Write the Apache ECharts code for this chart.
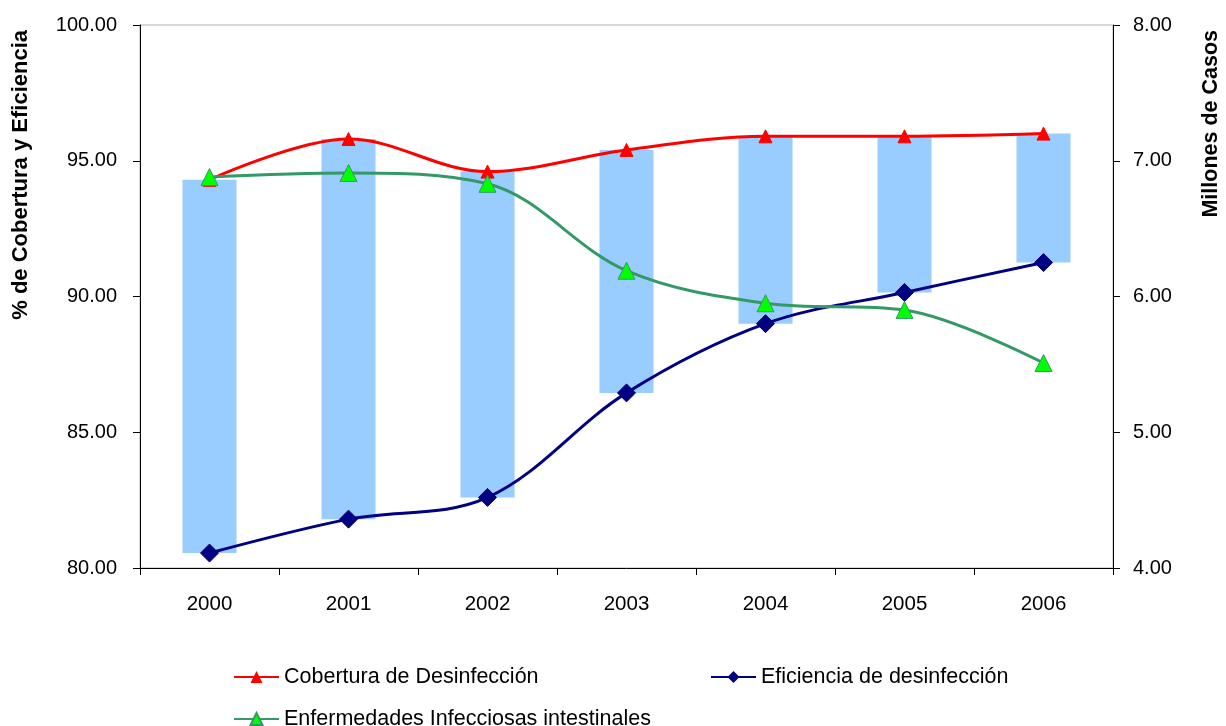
<!DOCTYPE html>
<html>
<head>
<meta charset="utf-8">
<script src="https://cdn.jsdelivr.net/npm/echarts@6/dist/echarts.min.js"></script>
<style>html,body{margin:0;padding:0;background:#fff}#c{width:1226px;height:726px}</style>
</head>
<body>
<div id="c"></div>
<script>
const categories = ['2000','2001','2002','2003','2004','2005','2006'];
const cobertura = [94.3, 95.8, 94.6, 95.4, 95.9, 95.9, 96.0];
const eficiencia = [80.55, 81.8, 82.6, 86.45, 89.0, 90.15, 91.25];
const enfermedades = [6.88, 6.91, 6.83, 6.19, 5.95, 5.90, 5.51];
const leftTicks = [80, 85, 90, 95, 100];
const rightTicks = [4, 5, 6, 7, 8];

const FONT = '"Liberation Sans", Arial, sans-serif';
const barRange = cobertura.map((v, i) => +(v - eficiencia[i]).toFixed(2));

const legendText = { fontSize: 21.5, color: '#000', fontFamily: FONT };
const chart = echarts.init(document.getElementById('c'));
chart.setOption({
  animation: false,
  backgroundColor: '#fff',
  textStyle: { fontFamily: FONT },
  grid: { left: 140, right: 113, top: 25, bottom: 158, show: true, borderColor: '#b0b0b0', borderWidth: 1 },
  legend: [
    { left: 228, top: 661, itemWidth: 45, itemHeight: 15, itemGap: 6,
      textStyle: legendText, data: ['Cobertura de Desinfección'] },
    { left: 705, top: 661, itemWidth: 45, itemHeight: 15,
      textStyle: legendText, data: ['Eficiencia de desinfección'] },
    { left: 228, top: 703, itemWidth: 45, itemHeight: 15,
      textStyle: legendText, data: ['Enfermedades Infecciosas intestinales'] }
  ],
  xAxis: {
    type: 'category', data: categories, boundaryGap: true,
    axisLine: { lineStyle: { color: '#000', width: 1 } },
    axisTick: { show: true, length: 7, lineStyle: { color: '#000' } },
    axisLabel: { fontSize: 20.5, color: '#000', margin: 26, fontFamily: FONT },
    splitLine: { show: false }
  },
  yAxis: [
    { type: 'value', min: leftTicks[0], max: leftTicks[leftTicks.length - 1], interval: 5,
      axisLine: { show: true, lineStyle: { color: '#000' } },
      axisTick: { show: true, length: 7, lineStyle: { color: '#000' } },
      axisLabel: { fontSize: 20, color: '#000', margin: 23, fontFamily: FONT, formatter: v => v.toFixed(2) },
      splitLine: { show: false } },
    { type: 'value', min: rightTicks[0], max: rightTicks[rightTicks.length - 1], interval: 1,
      position: 'right',
      axisLine: { show: true, lineStyle: { color: '#000' } },
      axisTick: { show: true, length: 7, lineStyle: { color: '#000' } },
      axisLabel: { fontSize: 20, color: '#000', margin: 20, fontFamily: FONT, formatter: v => v.toFixed(2) },
      splitLine: { show: false } }
  ],
  graphic: [
    { type: 'text', left: 10, top: 30, rotation: Math.PI / 2,
      style: { text: '% de Cobertura y Eficiencia', font: 'bold 22px ' + FONT, fill: '#000' } },
    { type: 'text', left: 1200, top: 30, rotation: Math.PI / 2,
      style: { text: 'Millones de Casos', font: 'bold 21.5px ' + FONT, fill: '#000' } }
  ],
  series: [
    { name: 'base', type: 'bar', stack: 'r', yAxisIndex: 0, barWidth: 54, silent: true,
      itemStyle: { color: 'rgba(0,0,0,0)' }, data: eficiencia, z: 1 },
    { name: 'rango', type: 'bar', stack: 'r', yAxisIndex: 0, barWidth: 54, silent: true,
      itemStyle: { color: '#99CCFF' }, data: barRange, z: 1 },
    { name: 'Cobertura de Desinfección', type: 'line', yAxisIndex: 0, data: cobertura, smooth: 0.35,
      symbol: 'triangle', symbolSize: 13, lineStyle: { color: '#FF0000', width: 3 },
      itemStyle: { color: '#FF0000', borderColor: '#FF0000' }, z: 3 },
    { name: 'Eficiencia de desinfección', type: 'line', yAxisIndex: 0, data: eficiencia, smooth: 0.35,
      symbol: 'diamond', symbolSize: 18, lineStyle: { color: '#000080', width: 3 },
      itemStyle: { color: '#000080', borderColor: '#000080' }, z: 3 },
    { name: 'Enfermedades Infecciosas intestinales', type: 'line', yAxisIndex: 1, data: enfermedades, smooth: 0.35,
      symbol: 'triangle', symbolSize: 17, lineStyle: { color: '#339966', width: 3 },
      itemStyle: { color: '#00FF00', borderColor: '#339966', borderWidth: 1 }, z: 4 }
  ]
});
</script>
</body>
</html>
